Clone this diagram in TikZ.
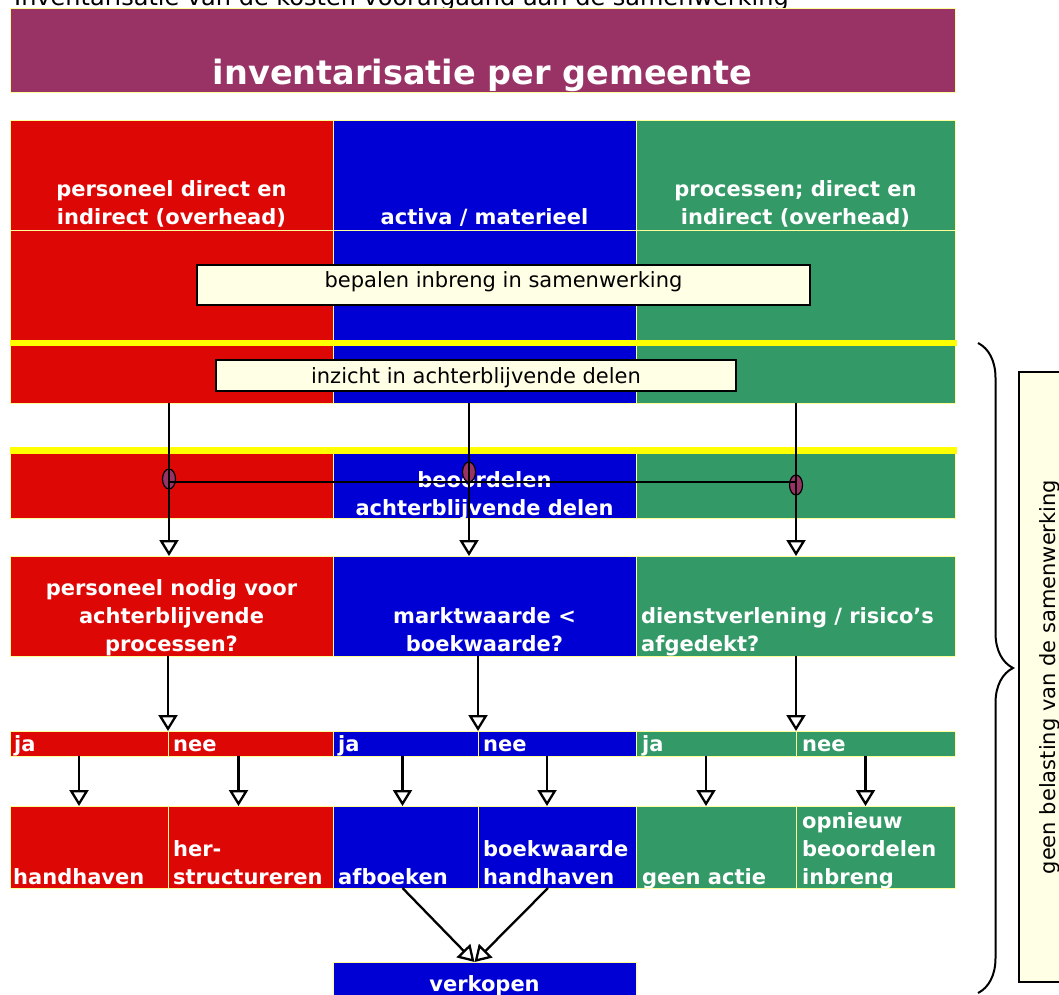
\documentclass[tikz,border=0pt]{standalone}
\usepackage{fontspec}
\setmainfont{DejaVu Sans}
\usepackage{xcolor}
\usepackage{tikz}
\usetikzlibrary{arrows.meta,positioning,shapes.geometric,decorations.pathreplacing}

\definecolor{rood}{HTML}{DD0806}
\definecolor{blauw}{HTML}{0000D4}
\definecolor{groen}{HTML}{339966}
\definecolor{paars}{HTML}{993366}
\definecolor{room}{HTML}{FFFFE6}
\definecolor{geel}{HTML}{FFFF00}
\definecolor{randgeel}{HTML}{FFFF99}

\begin{document}
\begin{tikzpicture}[x=1pt, y=-1pt,
    cel/.style={draw=randgeel, line width=1pt, inner sep=0pt, outer sep=0pt, anchor=north west},
    wit/.style={text=white, font=\bfseries\fontsize{21}{28}\selectfont, inner sep=0pt, execute at end node=\strut},
    notitie/.style={draw=black, line width=1.2pt, fill=room, inner sep=0pt, font=\fontsize{21}{28}\selectfont},
    knoop/.style={ellipse, draw=black, line width=1.2pt, fill=paars, minimum width=13pt, minimum height=20pt, inner sep=0pt},
    pijl/.style={-{Triangle[width=19pt, length=16pt, fill=white]}, line width=2.3pt}]
      \useasboundingbox (0,0) rectangle (1059,994);
      \clip (0,0) rectangle (1059,994);
      \node[anchor=base west, inner sep=0pt, font=\fontsize{24}{29}\selectfont] (onderwerp) at (14,5)
        {Inventarisatie van de kosten voorafgaand aan de samenwerking};
      % titelbalk
      \node[cel, fill=paars, minimum width=945pt, minimum height=84pt] (titel) at (10,8) {};
      \node[text=white, font=\bfseries\fontsize{33.5}{40}\selectfont, inner sep=0pt, anchor=base]
        (titeltekst) at ([yshift=8pt]titel.south) {inventarisatie per gemeente};
      % drie kolommen
      \node[cel, fill=rood, minimum width=323pt, minimum height=110pt] (a1) at (10,120) {};
      \node[cel, fill=blauw, minimum width=303pt, minimum height=110pt] (a2) at (333,120) {};
      \node[cel, fill=groen, minimum width=319pt, minimum height=110pt] (a3) at (636,120) {};
      \node[cel, fill=rood, minimum width=323pt, minimum height=113pt] (b1) at (10,230) {};
      \node[cel, fill=blauw, minimum width=303pt, minimum height=113pt] (b2) at (333,230) {};
      \node[cel, fill=groen, minimum width=319pt, minimum height=113pt] (b3) at (636,230) {};
      \node[cel, fill=rood, minimum width=323pt, minimum height=60pt] (c1) at (10,343) {};
      \node[cel, fill=blauw, minimum width=303pt, minimum height=60pt] (c2) at (333,343) {};
      \node[cel, fill=groen, minimum width=319pt, minimum height=60pt] (c3) at (636,343) {};
      \node[cel, fill=rood, minimum width=323pt, minimum height=67pt] (d1) at (10,451) {};
      \node[cel, fill=blauw, minimum width=303pt, minimum height=67pt] (d2) at (333,451) {};
      \node[cel, fill=groen, minimum width=319pt, minimum height=67pt] (d3) at (636,451) {};
      \fill[geel] (10,340) rectangle (957,346);
      \fill[geel] (10,447) rectangle (957,454);
      \node[wit, align=center, above=-3.4pt of a1.south] (ta1) {personeel direct en\\indirect (overhead)};
      \node[wit, align=center, above=-3.4pt of a2.south] (ta2) {activa / materieel};
      \node[wit, align=center, above=-3.4pt of a3.south] (ta3) {processen; direct en\\indirect (overhead)};
      \node[notitie, minimum width=613pt, minimum height=40pt, text height=16pt, text depth=10.4pt]
        (inbreng) at (503.5,285) {bepalen inbreng in samenwerking};
      \node[notitie, minimum width=520pt, minimum height=31pt, text height=16pt, text depth=0.4pt]
        (inzicht) at (476,375.5) {inzicht in achterblijvende delen};
      \node[wit, align=center, above=-6.4pt of d2.south] (td2) {beoordelen\\achterblijvende delen};
      % vragen
      \node[cel, fill=rood, minimum width=323pt, minimum height=100pt] (e1) at (10,556) {};
      \node[cel, fill=blauw, minimum width=303pt, minimum height=100pt] (e2) at (333,556) {};
      \node[cel, fill=groen, minimum width=319pt, minimum height=100pt] (e3) at (636,556) {};
      \node[wit, align=center, above=-4.4pt of e1.south] (te1) {personeel nodig voor\\achterblijvende\\processen?};
      \node[wit, align=center, above=-4.4pt of e2.south] (te2) {marktwaarde <\\boekwaarde?};
      \node[wit, align=left, above right=-4.4pt and 5pt of e3.south west] (te3) {dienstverlening / risico's\\afgedekt?};
      % ja / nee
      \node[cel, fill=rood, minimum width=158pt, minimum height=25pt] (f1) at (10,731) {};
      \node[cel, fill=rood, minimum width=165pt, minimum height=25pt] (f2) at (168,731) {};
      \node[cel, fill=blauw, minimum width=145pt, minimum height=25pt] (f3) at (333,731) {};
      \node[cel, fill=blauw, minimum width=158pt, minimum height=25pt] (f4) at (478,731) {};
      \node[cel, fill=groen, minimum width=160pt, minimum height=25pt] (f5) at (636,731) {};
      \node[cel, fill=groen, minimum width=159pt, minimum height=25pt] (f6) at (796,731) {};
      \node[wit, right=4pt of f1.west, yshift=-2pt] (tf1) {ja};
      \node[wit, right=5pt of f2.west, yshift=-2pt] (tf2) {nee};
      \node[wit, right=5pt of f3.west, yshift=-2pt] (tf3) {ja};
      \node[wit, right=5pt of f4.west, yshift=-2pt] (tf4) {nee};
      \node[wit, right=6pt of f5.west, yshift=-2pt] (tf5) {ja};
      \node[wit, right=6pt of f6.west, yshift=-2pt] (tf6) {nee};
      % acties
      \node[cel, fill=rood, minimum width=158pt, minimum height=82pt] (g1) at (10,806) {};
      \node[cel, fill=rood, minimum width=165pt, minimum height=82pt] (g2) at (168,806) {};
      \node[cel, fill=blauw, minimum width=145pt, minimum height=82pt] (g3) at (333,806) {};
      \node[cel, fill=blauw, minimum width=158pt, minimum height=82pt] (g4) at (478,806) {};
      \node[cel, fill=groen, minimum width=160pt, minimum height=82pt] (g5) at (636,806) {};
      \node[cel, fill=groen, minimum width=159pt, minimum height=82pt] (g6) at (796,806) {};
      \node[wit, align=left, above right=-5.4pt and 3pt of g1.south west] (tg1) {handhaven};
      \node[wit, align=left, above right=-5.4pt and 5pt of g2.south west] (tg2) {her-\\structureren};
      \node[wit, align=left, above right=-5.4pt and 5pt of g3.south west] (tg3) {afboeken};
      \node[wit, align=left, above right=-5.4pt and 5pt of g4.south west] (tg4) {boekwaarde\\handhaven};
      \node[wit, align=left, above right=-5.4pt and 6pt of g5.south west] (tg5) {geen actie};
      \node[wit, align=left, above right=-5.4pt and 6pt of g6.south west] (tg6) {opnieuw\\beoordelen\\inbreng};
      \node[cel, fill=blauw, minimum width=303pt, minimum height=60pt] (verkopen) at (333,962) {};
      \node[wit, below=10pt of verkopen.north] (tverkopen) {verkopen};
      % knooppunten en verbindingen
      \node[knoop] (j1) at (169,479) {};
      \node[knoop] (j2) at (469,472) {};
      \node[knoop] (j3) at (796,485) {};
      \draw[line width=2.6pt] ([yshift=-3pt]j1.center) -- ([yshift=-3pt]j1.center -| j3.center);
      \draw[pijl] (j1 |- c1.south) -- (j1 |- e1.north);
      \draw[pijl] (j2 |- c2.south) -- (j2 |- e2.north);
      \draw[pijl] (j3 |- c3.south) -- (j3 |- e3.north);
      \draw[pijl] (e1.south -| f2.west) -- (f2.north west);
      \draw[pijl] (e2.south -| f4.west) -- (f4.north west);
      \draw[pijl] (e3.south -| f6.west) -- (f6.north west);
      \draw[pijl] ([xshift=-10pt]f1.south) -- ([xshift=-10pt]g1.north);
      \draw[pijl] ([xshift=-12pt]f2.south) -- ([xshift=-12pt]g2.north);
      \draw[pijl] ([xshift=-3pt]f3.south) -- ([xshift=-3pt]g3.north);
      \draw[pijl] ([xshift=-10pt]f4.south) -- ([xshift=-10pt]g4.north);
      \draw[pijl] ([xshift=-10pt]f5.south) -- ([xshift=-10pt]g5.north);
      \draw[pijl] ([xshift=-10pt]f6.south) -- ([xshift=-10pt]g6.north);
      \draw[pijl] ([xshift=-3pt]g3.south) -- ([xshift=-10pt]verkopen.north);
      \draw[pijl] ([xshift=-9pt]g4.south) -- ([xshift=-10pt]verkopen.north);
      % accolade met toelichting
      \coordinate (boven) at (978,343);
      \coordinate (onder) at (978,993);
      \draw[decorate, decoration={brace, amplitude=35pt}, line width=2pt] (boven) -- (onder);
      \node[notitie, rotate=90, minimum width=610pt, minimum height=62pt] (belasting) at (1050,677)
        {geen belasting van de samenwerking};
    \end{tikzpicture}
\end{document}
